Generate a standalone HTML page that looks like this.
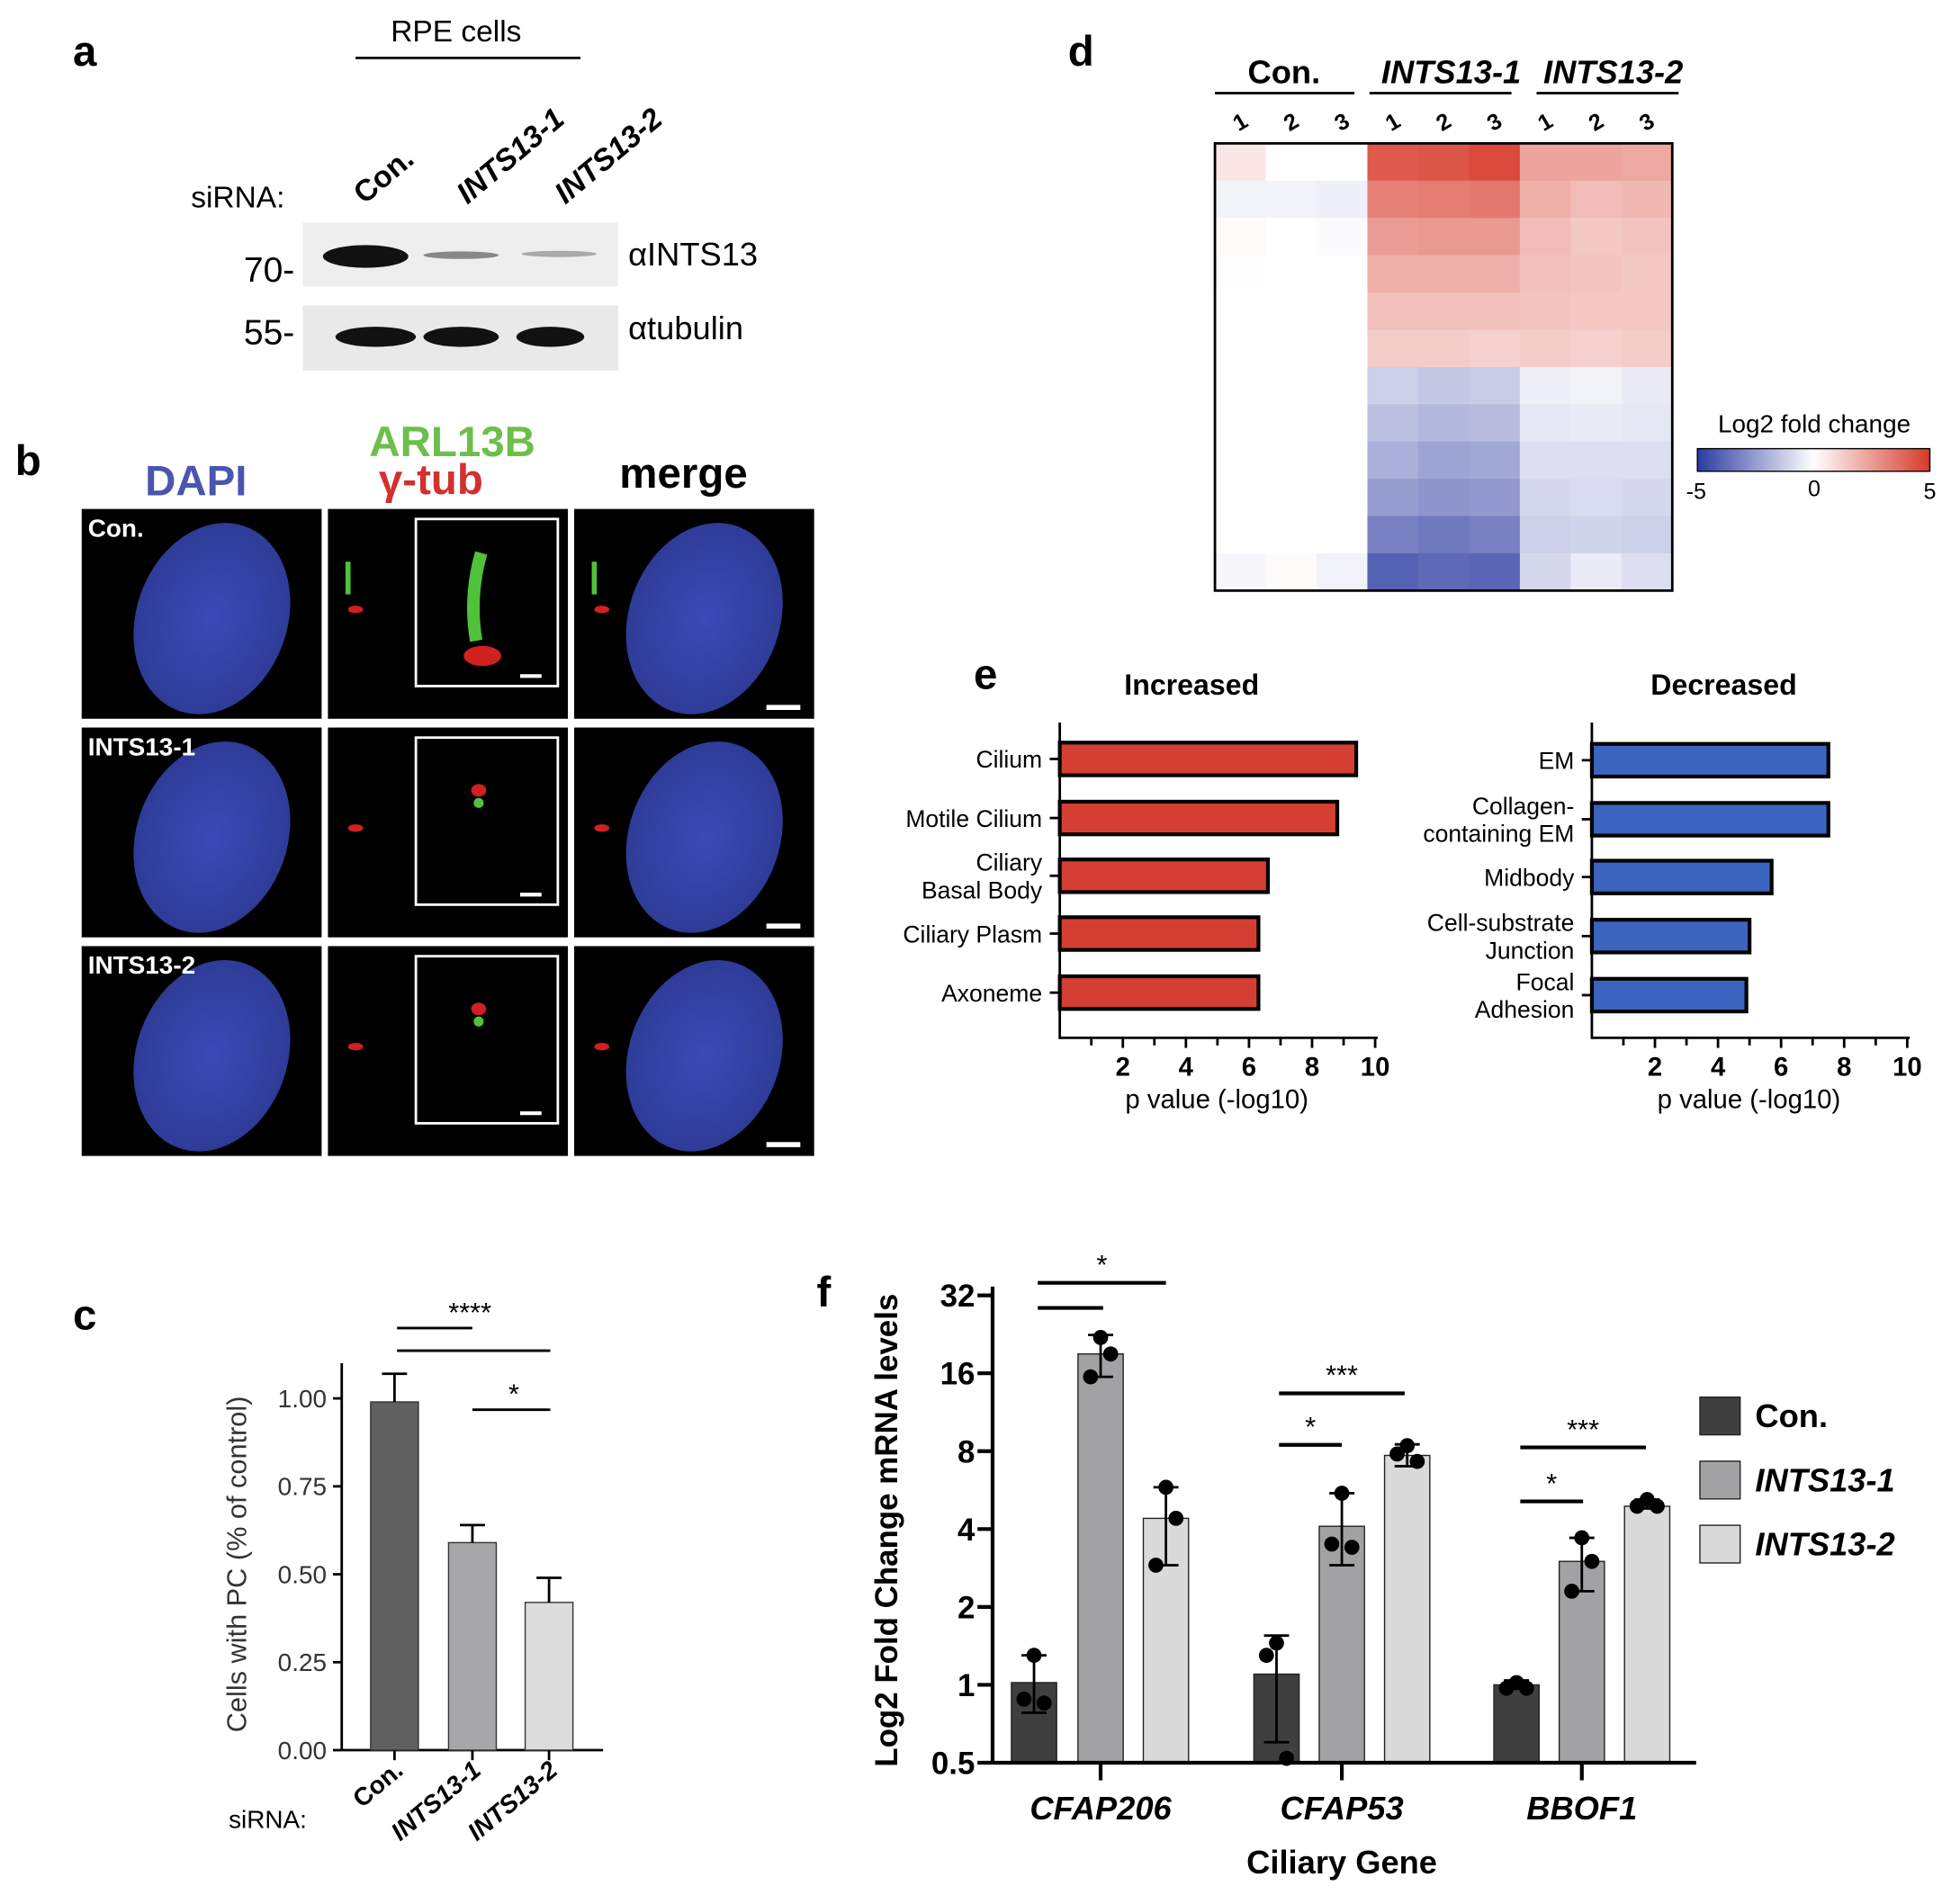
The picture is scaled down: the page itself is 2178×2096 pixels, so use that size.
<!DOCTYPE html>
<html><head><meta charset="utf-8"><style>
html,body{margin:0;padding:0;background:#fff}
svg{display:block}
text{font-family:"Liberation Sans",Arial,sans-serif}
</style></head><body>
<svg id="fig" width="2178" height="2096" viewBox="0 0 1560 1501" xmlns="http://www.w3.org/2000/svg">
<defs>
<linearGradient id="cbar" x1="0" x2="1" y1="0" y2="0">
<stop offset="0" stop-color="#2b3aa0"/><stop offset="0.5" stop-color="#ffffff"/><stop offset="1" stop-color="#d63a2a"/>
</linearGradient>
<radialGradient id="nuc" cx="0.5" cy="0.5" r="0.6"><stop offset="0" stop-color="#3a4bb8"/><stop offset="1" stop-color="#2c3890"/></radialGradient>
</defs>

<!-- Panel a -->
<g>
<text x="58" y="52" font-size="34" font-weight="bold">a</text>
<text x="363" y="33" font-size="24" text-anchor="middle">RPE cells</text>
<line x1="283" y1="46" x2="462" y2="46" stroke="#000" stroke-width="2"/>
<text x="152" y="165" font-size="24">siRNA:</text>
<text transform="translate(290,163) rotate(-40)" font-size="24" font-weight="bold">Con.</text>
<text transform="translate(372,163) rotate(-40)" font-size="24" font-weight="bold" font-style="italic">INTS13-1</text>
<text transform="translate(450,163) rotate(-40)" font-size="24" font-weight="bold" font-style="italic">INTS13-2</text>
<rect x="241" y="177" width="251" height="51" fill="#eeeeee"/>
<rect x="241" y="243" width="251" height="52" fill="#e9e9e9"/>
<ellipse cx="291" cy="204" rx="34" ry="9" fill="#111"/>
<ellipse cx="367" cy="203" rx="30" ry="3" fill="#888"/>
<ellipse cx="445" cy="202" rx="30" ry="2.5" fill="#aaa"/>
<ellipse cx="299" cy="268" rx="32" ry="8" fill="#111"/>
<ellipse cx="367" cy="268" rx="30" ry="8" fill="#111"/>
<ellipse cx="438" cy="268" rx="27" ry="8" fill="#111"/>
<text x="194" y="224" font-size="28">70-</text>
<text x="194" y="274" font-size="28">55-</text>
<text x="500" y="211" font-size="26">αINTS13</text>
<text x="500" y="270" font-size="26">αtubulin</text>
</g>

<!-- Panel b -->
<g>
<text x="12" y="378" font-size="34" font-weight="bold">b</text>
<text x="156" y="394" font-size="34" font-weight="bold" fill="#4a55b0" text-anchor="middle">DAPI</text>
<text x="360" y="363" font-size="34" font-weight="bold" fill="#6cbf4a" text-anchor="middle">ARL13B</text>
<text x="343" y="393" font-size="34" font-weight="bold" fill="#d33030" text-anchor="middle">γ-tub</text>
<text x="544" y="388" font-size="34" font-weight="bold" text-anchor="middle">merge</text>
<g id="tiles"></g>
</g>

<!-- Panel c -->
<g>
<text x="58" y="1058" font-size="34" font-weight="bold">c</text>
<g id="chartC"></g>
</g>

<!-- Panel d -->
<g>
<text x="850" y="52" font-size="34" font-weight="bold">d</text>
<text x="1022" y="66" font-size="26" font-weight="bold" text-anchor="middle">Con.</text>
<text x="1155" y="66" font-size="26" font-weight="bold" font-style="italic" text-anchor="middle">INTS13-1</text>
<text x="1284" y="66" font-size="26" font-weight="bold" font-style="italic" text-anchor="middle">INTS13-2</text>
<line x1="967" y1="74" x2="1078" y2="74" stroke="#000" stroke-width="2"/>
<line x1="1090" y1="74" x2="1203" y2="74" stroke="#000" stroke-width="2"/>
<line x1="1223" y1="74" x2="1336" y2="74" stroke="#000" stroke-width="2"/>
<g id="heat"></g>
<text x="1444" y="344" font-size="20" text-anchor="middle">Log2 fold change</text>
<rect x="1351" y="357" width="185" height="18" fill="url(#cbar)" stroke="#000" stroke-width="1"/>
<text x="1350" y="397" font-size="18" text-anchor="middle">-5</text>
<text x="1444" y="395" font-size="18" text-anchor="middle">0</text>
<text x="1536" y="397" font-size="18" text-anchor="middle">5</text>
</g>

<!-- Panel e -->
<g>
<text x="775" y="548" font-size="34" font-weight="bold">e</text>
<g id="chartE"></g>
</g>

<!-- Panel f -->
<g>
<text x="650" y="1040" font-size="34" font-weight="bold">f</text>
<g id="chartF"></g>
</g>
</svg>

<script>
const NS='http://www.w3.org/2000/svg';
function mk(tag,attrs,parent,txt){const e=document.createElementNS(NS,tag);for(const k in attrs)e.setAttribute(k,attrs[k]);if(txt!==undefined)e.textContent=txt;parent.appendChild(e);return e;}

/* ---------- Panel b tiles ---------- */
const tileRowLabels=['Con.','INTS13-1','INTS13-2'];
(function(){
const g=document.getElementById('tiles');
const cols=[65,261,457],rows=[405,579,753],w=191,h=167;
rows.forEach((y,ri)=>{cols.forEach((x,ci)=>{
 const r=mk('rect',{x:x,y:y,width:w,height:h,fill:'#000'},g);
 
 
 if(ci!==1){mk('ellipse',{cx:x+105,cy:y+h/2+4,rx:60,ry:78,fill:'url(#nuc)',transform:`rotate(20 ${x+105} ${y+h/2})`},g);}
 if(ci>=1){
  mk('rect',{x:x+14,y:y+42,width:4,height:26,fill:'#4fc23a',opacity:ri===0?1:0},g);
  mk('ellipse',{cx:x+22,cy:y+80,rx:6,ry:3,fill:'#d02020'},g);
 }
 if(ci===1){
  mk('rect',{x:x+70,y:y+8,width:113,height:133,fill:'none',stroke:'#fff','stroke-width':2},g);
  if(ri===0){mk('path',{d:`M${x+122} ${y+35} Q${x+112} ${y+70} ${x+118} ${y+105}`,stroke:'#4fc23a','stroke-width':10,fill:'none'},g);
   mk('ellipse',{cx:x+123,cy:y+117,rx:15,ry:8,fill:'#d02020'},g);}
  else {mk('ellipse',{cx:x+120,cy:y+50,rx:6,ry:5,fill:'#d02020'},g);mk('ellipse',{cx:x+120,cy:y+60,rx:4,ry:4,fill:'#4fc23a'},g);}
  mk('line',{x1:x+153,y1:y+133,x2:x+170,y2:y+133,stroke:'#fff','stroke-width':3},g);
 }
 if(ci===2){mk('line',{x1:x+153,y1:y+158,x2:x+180,y2:y+158,stroke:'#fff','stroke-width':4},g);}
});
 const t=mk('text',{x:70,y:y+22,'font-size':20,'font-weight':'bold',fill:'#fff'},g,tileRowLabels[ri]);
});
})();

/* ---------- Panel c ---------- */
const cCats=['Con.','INTS13-1','INTS13-2'];
const cVals=[0.99,0.59,0.42];
const cErr=[0.08,0.05,0.07];
const cTicks=[0,0.25,0.5,0.75,1.0];
const cTickLabels=['0.00','0.25','0.50','0.75','1.00'];
(function(){
const g=document.getElementById('chartC');
const y0=1393,py=280,ax=272;
const yS=v=>y0-v*py;
const xs=[314,376,437],bw=38,fills=['#606060','#a7a7a9','#dcdcdc'];
mk('line',{x1:ax,y1:1085,x2:ax,y2:y0,stroke:'#000','stroke-width':2},g);
mk('line',{x1:ax,y1:y0,x2:480,y2:y0,stroke:'#000','stroke-width':2},g);
cTicks.forEach((t,i)=>{mk('line',{x1:ax-7,y1:yS(t),x2:ax,y2:yS(t),stroke:'#000','stroke-width':2},g);
 mk('text',{x:ax-12,y:yS(t)+7,'font-size':20,'text-anchor':'end',fill:'#333'},g,cTickLabels[i]);});
cVals.forEach((v,i)=>{
 const b=mk('rect',{x:xs[i]-bw/2,y:yS(v),width:bw,height:y0-yS(v),fill:fills[i],stroke:'#333','stroke-width':1},g);
 
 
 mk('line',{x1:xs[i],y1:yS(v),x2:xs[i],y2:yS(v+cErr[i]),stroke:'#000','stroke-width':2},g);
 mk('line',{x1:xs[i]-10,y1:yS(v+cErr[i]),x2:xs[i]+10,y2:yS(v+cErr[i]),stroke:'#000','stroke-width':2},g);
 mk('line',{x1:xs[i],y1:y0,x2:xs[i],y2:y0+8,stroke:'#000','stroke-width':2},g);
 mk('text',{transform:`translate(${xs[i]+8},${y0+18}) rotate(-40)`,'font-size':20,'font-weight':'bold','font-style':i?'italic':'normal','text-anchor':'end'},g,cCats[i]);
});
mk('text',{x:182,y:1455,'font-size':20},g,'siRNA:');
mk('text',{transform:'translate(196,1245) rotate(-90)','font-size':22,'text-anchor':'middle',fill:'#333'},g,'Cells with PC (% of control)');
mk('line',{x1:316,y1:1057,x2:376,y2:1057,stroke:'#000','stroke-width':2},g);
mk('line',{x1:316,y1:1075,x2:438,y2:1075,stroke:'#000','stroke-width':2},g);
mk('text',{x:374,y:1052,'font-size':22,'text-anchor':'middle'},g,'****');
mk('line',{x1:376,y1:1122,x2:438,y2:1122,stroke:'#000','stroke-width':2},g);
mk('text',{x:409,y:1117,'font-size':22,'text-anchor':'middle'},g,'*');
})();

/* ---------- Panel d heatmap ---------- */
const heatSamples=['Con-1','Con-2','Con-3','INTS13-1-1','INTS13-1-2','INTS13-1-3','INTS13-2-1','INTS13-2-2','INTS13-2-3'];
// each column: log2FC in 12 row blocks (top to bottom)
const heatValues=[
[0.6,-0.3,0.1,0.05,0,0,0,0,0,0,0,-0.2],
[0,-0.3,0,0,0,0,0,0,0,0,0,0.1],
[0,-0.4,-0.1,0,0,0,0,0,0,0,0,-0.3],
[4.2,3.2,2.5,2.0,1.6,1.3,-1.2,-1.6,-2.0,-2.5,-3.2,-4.0],
[4.3,3.3,2.6,2.0,1.6,1.3,-1.4,-1.8,-2.3,-2.7,-3.4,-3.8],
[4.6,3.4,2.6,2.0,1.6,1.2,-1.3,-1.7,-2.2,-2.6,-3.2,-3.9],
[2.3,2.0,1.7,1.6,1.5,1.3,-0.4,-0.6,-0.8,-1.0,-1.2,-1.0],
[2.3,1.7,1.4,1.5,1.4,1.2,-0.3,-0.5,-0.8,-0.9,-1.1,-0.5],
[2.2,1.8,1.5,1.4,1.4,1.3,-0.5,-0.6,-0.8,-1.0,-1.2,-0.8]
];
(function(){
const g=document.getElementById('heat');
const x0=967,x1=1331,y0=114,y1=470;
const cw=(x1-x0)/heatSamples.length;
const rows=heatValues[0].length, rh=(y1-y0)/rows;
function col(v){const t=Math.max(-1,Math.min(1,v/5));
 if(t>=0){const r=Math.round(255+(214-255)*t),gg=Math.round(255+(58-255)*t),b=Math.round(255+(42-255)*t);return `rgb(${r},${gg},${b})`;}
 const s=-t;return `rgb(${Math.round(255+(43-255)*s)},${Math.round(255+(58-255)*s)},${Math.round(255+(160-255)*s)})`;}
heatValues.forEach((c,ci)=>{c.forEach((v,ri)=>{
 const r=mk('rect',{x:x0+ci*cw,y:y0+ri*rh,width:cw+0.5,height:rh+0.5,fill:col(v)},g);
 
 
});
 mk('text',{x:x0+ci*cw+cw/2,y:103,'font-size':18,'font-weight':'bold','text-anchor':'middle',transform:`rotate(-30 ${x0+ci*cw+cw/2} 97)`},g,String(ci%3+1));
});
mk('rect',{x:x0,y:y0,width:x1-x0,height:y1-y0,fill:'none',stroke:'#000','stroke-width':2},g);
})();

/* ---------- Panel e ---------- */
const incCats=['Cilium','Motile Cilium','Ciliary|Basal Body','Ciliary Plasm','Axoneme'];
const incVals=[9.4,8.8,6.6,6.3,6.3];
const decCats=['EM','Collagen-|containing EM','Midbody','Cell-substrate|Junction','Focal|Adhesion'];
const decVals=[7.5,7.5,5.7,5.0,4.9];
const eTicks=[2,4,6,8,10];
(function(){
const g=document.getElementById('chartE');
function panel(ax,cats,vals,fill,title,ys){
 const unit=25.1,xS=v=>ax+v*unit;
 mk('text',{x:ax+105,y:553,'font-size':23,'font-weight':'bold','text-anchor':'middle'},g,title);
 mk('line',{x1:ax,y1:575,x2:ax,y2:827,stroke:'#000','stroke-width':2},g);
 mk('line',{x1:ax,y1:826,x2:xS(10)+2,y2:826,stroke:'#000','stroke-width':2},g);
 for(let t=1;t<=10;t++){mk('line',{x1:xS(t),y1:826,x2:xS(t),y2:(t%2?832:834),stroke:'#000','stroke-width':2},g);}
 eTicks.forEach(t=>mk('text',{x:xS(t),y:856,'font-size':21,'font-weight':'bold','text-anchor':'middle'},g,String(t)));
 mk('text',{x:ax+125,y:882,'font-size':21,'text-anchor':'middle'},g,'p value (-log10)');
 vals.forEach((v,i)=>{
  const b=mk('rect',{x:ax,y:ys[i]-13,width:xS(v)-ax,height:26,fill:fill,stroke:'#000','stroke-width':3},g);
  
  
  mk('line',{x1:ax-8,y1:ys[i],x2:ax,y2:ys[i],stroke:'#000','stroke-width':2},g);
  const parts=cats[i].split('|');
  parts.forEach((p,k)=>mk('text',{x:ax-14,y:ys[i]+7+(k-(parts.length-1)/2)*22,'font-size':19,'text-anchor':'end'},g,p));
 });
}
panel(843.5,incCats,incVals,'#d43f31','Increased',[604,651,697,743,790]);
panel(1267,decCats,decVals,'#3a64c0','Decreased',[605,652,698,745,792]);
})();

/* ---------- Panel f ---------- */
const fGenes=['CFAP206','CFAP53','BBOF1'];
const fSeries=['Con.','INTS13-1','INTS13-2'];
const fCon=[1.02,1.1,1.0];
const fInt1=[19,4.1,3.0];
const fInt2=[4.4,7.7,4.9];
const fErrLo=[[0.78,0.6,0.97],[15.5,2.9,2.3],[2.9,7.0,4.8]];
const fErrHi=[[1.3,1.55,1.04],[22.5,5.5,3.7],[5.8,8.5,5.2]];
const fPtsCon=[[1.3,0.85,0.88],[1.45,0.52,1.3],[1.02,0.97,0.97]];
const fPtsInt1=[[22,19,15.5],[5.5,3.4,3.5],[3.7,3.0,2.3]];
const fPtsInt2=[[5.8,4.4,2.9],[8.4,7.3,7.8],[5.2,4.9,4.9]];
const fTicks=[0.5,1,2,4,8,16,32];
(function(){
const g=document.getElementById('chartF');
const ax=790,y0=1403,per=62;
const yS=v=>y0-(Math.log2(v)+1)*per;
const fills=['#3f3f3f','#a2a2a4','#dadada'];
const centers=[[823,876,928],[1016,1068,1120],[1207,1259,1311]];
const series=[fCon,fInt1,fInt2],pts=[fPtsCon,fPtsInt1,fPtsInt2];
mk('line',{x1:ax,y1:1024,x2:ax,y2:y0,stroke:'#000','stroke-width':3},g);
fTicks.forEach(t=>{mk('line',{x1:ax-12,y1:yS(t),x2:ax,y2:yS(t),stroke:'#000','stroke-width':3},g);
 mk('text',{x:ax-14,y:yS(t)+9,'font-size':25,'font-weight':'bold','text-anchor':'end'},g,String(t));});
fGenes.forEach((gn,gi)=>{
 series.forEach((s,si)=>{
  const cx=centers[gi][si],v=s[gi];
  const b=mk('rect',{x:cx-18,y:yS(v),width:36,height:y0-yS(v),fill:fills[si],stroke:'#222','stroke-width':1},g);
  
  
  const lo=fErrLo[si][gi],hi=fErrHi[si][gi];
  mk('line',{x1:cx,y1:yS(lo),x2:cx,y2:yS(hi),stroke:'#000','stroke-width':2},g);
  [lo,hi].forEach(e=>mk('line',{x1:cx-10,y1:yS(e),x2:cx+10,y2:yS(e),stroke:'#000','stroke-width':2},g));
  pts[si][gi].forEach((p,k)=>{const d=mk('circle',{cx:cx+[0,-8,8][k]*(k?1:0)+(k===0?0:0),cy:yS(p),r:6,fill:'#000'},g);
   d.setAttribute('cx',cx+[0,8,-8][k]);});
 });
 mk('line',{x1:centers[gi][1],y1:y0,x2:centers[gi][1],y2:y0+14,stroke:'#000','stroke-width':3},g);
 mk('text',{x:centers[gi][1],y:1448,'font-size':26,'font-weight':'bold','font-style':'italic','text-anchor':'middle'},g,gn);
});
mk('line',{x1:ax,y1:y0,x2:1350,y2:y0,stroke:'#000','stroke-width':3},g);
mk('text',{x:1068,y:1491,'font-size':26,'font-weight':'bold','text-anchor':'middle'},g,'Ciliary Gene');
mk('text',{transform:'translate(714,1218) rotate(-90)','font-size':25,'font-weight':'bold','text-anchor':'middle'},g,'Log2 Fold Change mRNA levels');
// significance
const sig=[[826,878,1041,''],[826,928,1021,'*'],[1018,1068,1150,'*'],[1018,1118,1109,'***'],[1210,1260,1195,'*'],[1210,1310,1152,'***']];
sig.forEach(s=>{mk('line',{x1:s[0],y1:s[2],x2:s[1],y2:s[2],stroke:'#000','stroke-width':3},g);
 if(s[3])mk('text',{x:(s[0]+s[1])/2,y:s[2]-7,'font-size':22,'text-anchor':'middle'},g,s[3]);});
// legend
fSeries.forEach((n,i)=>{const y=1112+i*51;
 const r=mk('rect',{x:1353,y:y,width:32,height:30,fill:fills[i],stroke:'#222','stroke-width':1},g);
 
 
 mk('text',{x:1397,y:y+24,'font-size':26,'font-weight':'bold','font-style':i?'italic':'normal'},g,n);});
})();
</script>
</body></html>
